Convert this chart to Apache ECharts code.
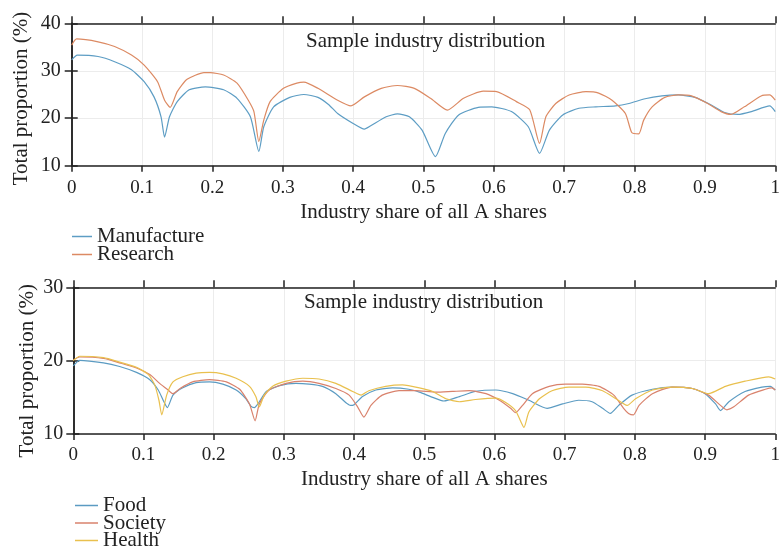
<!DOCTYPE html>
<html>
<head>
<meta charset="utf-8">
<script src="https://cdn.jsdelivr.net/npm/echarts@6/dist/echarts.min.js"></script>
<style>html,body{margin:0;padding:0;background:#fff;}#c{width:783px;height:552px;}</style>
</head>
<body>
<div id="c"></div>
<script>
// ---- Data ----
const titleText = 'Sample industry distribution';
const xName = 'Industry share of all A shares';
const yName = 'Total proportion (%)';

const manufactureX = [0,0.008,0.0375,0.061,0.085,0.103,0.117,0.127,0.132,0.139,0.150,0.167,0.190,0.216,0.235,0.254,0.266,0.273,0.287,0.310,0.330,0.350,0.365,0.378,0.400,0.416,0.425,0.447,0.463,0.480,0.498,0.517,0.531,0.550,0.578,0.597,0.625,0.649,0.665,0.679,0.698,0.721,0.745,0.773,0.792,0.815,0.839,0.862,0.886,0.909,0.928,0.947,0.966,0.992,1.0];
const manufactureY = [32.3,33.3,33.0,31.9,30.2,27.7,24.5,20.3,16.0,20.3,23.5,26.0,26.6,26.0,24.2,20.3,13.0,18.2,22.4,24.4,25.0,24.4,22.9,21.0,18.9,17.7,18.4,20.3,20.9,20.3,17.5,11.9,16.8,20.7,22.3,22.4,21.4,18.2,12.6,17.5,20.7,22.1,22.4,22.6,23.1,24.1,24.7,24.9,24.4,22.8,21.2,20.8,21.4,22.6,21.4];

const researchX = [0,0.007,0.0375,0.061,0.085,0.103,0.122,0.132,0.140,0.150,0.164,0.188,0.197,0.216,0.235,0.251,0.259,0.266,0.273,0.282,0.301,0.320,0.330,0.350,0.378,0.397,0.416,0.440,0.463,0.487,0.510,0.534,0.557,0.585,0.604,0.632,0.651,0.665,0.674,0.688,0.707,0.731,0.749,0.768,0.787,0.796,0.806,0.813,0.825,0.843,0.862,0.881,0.904,0.923,0.937,0.956,0.980,0.992,1.0];
const researchY = [35.4,36.7,36.1,35.1,33.3,31.2,27.7,23.8,22.3,25.6,28.2,29.6,29.6,29.1,27.4,23.8,21.4,15.1,19.6,23.5,26.3,27.4,27.6,26.3,23.8,22.6,24.5,26.3,26.9,26.3,24.2,21.7,24.2,25.7,25.6,23.5,21.8,14.7,20.3,23.1,24.9,25.6,25.3,23.8,21.0,17.0,16.7,19.6,22.4,24.4,24.9,24.7,23.1,21.4,20.8,22.4,24.7,24.9,23.8];

const foodX = [0,0.009,0.043,0.066,0.090,0.109,0.121,0.128,0.134,0.142,0.156,0.175,0.194,0.213,0.232,0.246,0.253,0.258,0.263,0.275,0.294,0.317,0.336,0.355,0.374,0.388,0.395,0.400,0.412,0.431,0.455,0.478,0.493,0.512,0.528,0.550,0.573,0.602,0.626,0.649,0.675,0.697,0.720,0.739,0.754,0.765,0.777,0.796,0.825,0.853,0.882,0.900,0.915,0.922,0.934,0.957,0.981,0.993,1.0];
const foodY = [19.3,20.05,19.7,19.2,18.4,17.4,16.0,14.6,13.6,15.3,16.3,17.0,17.1,16.8,16.0,14.8,13.8,13.6,14.1,15.8,16.6,16.9,16.8,16.5,15.5,14.3,13.9,14.0,15.1,16.0,16.3,16.1,15.7,15.0,14.5,15.1,15.8,16.0,15.5,14.6,13.5,14.1,14.6,14.4,13.5,12.8,13.9,15.3,16.1,16.4,16.2,15.5,14.1,13.2,14.4,15.8,16.4,16.5,16.0];

const societyX = [0,0.009,0.043,0.066,0.090,0.109,0.123,0.135,0.142,0.152,0.170,0.194,0.218,0.237,0.251,0.259,0.265,0.279,0.303,0.327,0.350,0.374,0.393,0.405,0.414,0.424,0.440,0.464,0.488,0.517,0.540,0.564,0.588,0.607,0.623,0.630,0.640,0.654,0.678,0.701,0.725,0.749,0.770,0.784,0.791,0.798,0.806,0.825,0.853,0.882,0.905,0.922,0.931,0.941,0.962,0.986,0.995,1.0];
const societyY = [20.1,20.5,20.3,19.7,19.0,18.1,16.9,16.0,15.5,16.2,17.1,17.4,17.1,16.1,14.1,11.8,14.1,16.0,16.9,17.2,16.9,16.2,15.3,13.7,12.3,13.9,15.3,15.9,15.9,15.7,15.8,15.9,15.5,14.6,13.5,12.9,13.9,15.5,16.5,16.8,16.8,16.5,15.3,13.5,12.8,12.6,13.9,15.5,16.4,16.2,15.3,13.9,13.3,13.7,15.3,16.1,16.3,16.0];

const healthX = [0,0.009,0.043,0.066,0.090,0.107,0.116,0.122,0.126,0.133,0.142,0.156,0.175,0.194,0.213,0.232,0.251,0.260,0.265,0.272,0.284,0.303,0.327,0.350,0.374,0.398,0.410,0.421,0.445,0.469,0.493,0.512,0.531,0.550,0.573,0.602,0.616,0.630,0.637,0.642,0.649,0.664,0.682,0.706,0.730,0.754,0.773,0.789,0.801,0.825,0.853,0.882,0.905,0.929,0.957,0.991,1.0];
const healthY = [20.0,20.6,20.4,19.8,19.1,18.1,16.7,14.6,12.6,15.3,17.1,17.8,18.3,18.4,18.2,17.6,16.5,15.1,13.7,15.3,16.5,17.2,17.6,17.5,16.9,15.8,15.3,15.9,16.5,16.7,16.3,15.8,14.8,14.4,14.7,14.9,14.3,13.2,11.8,10.9,13.0,14.8,15.9,16.4,16.4,15.9,14.8,13.9,14.8,16.0,16.4,16.2,15.5,16.5,17.2,17.8,17.5];

const topLegend = ['Manufacture', 'Research'];
const bottomLegend = ['Food', 'Society', 'Health'];

// ---- Styles ----
const FONT = 'Liberation Serif';
const INK = '#222';
const BIG = 21;
const colors = { Manufacture: '#5d9dc4', Research: '#dc8a63', Food: '#5b9bc2', Society: '#d9826c', Health: '#e9c04e' };

function pairs(xs, ys) { return xs.map((x, i) => [x, ys[i]]); }

function bottomX(grid, gap, margin) {
  return {
    type: 'value', gridIndex: grid, position: 'bottom', min: 0, max: 1, interval: 0.1,
    name: xName, nameLocation: 'middle', nameGap: gap, nameMoveOverlap: false,
    nameTextStyle: { fontFamily: FONT, fontSize: BIG, color: INK },
    axisLine: { show: true, lineStyle: { color: INK, width: 1.5 } },
    axisTick: { show: true, inside: false, length: 6, lineStyle: { color: INK, width: 1.5 } },
    axisLabel: { fontFamily: FONT, fontSize: 19, color: INK, margin: margin,
      formatter: v => (v === 0 ? '0' : v === 1 ? '1' : v.toFixed(1)) },
    splitLine: { show: true, lineStyle: { color: '#ececec', width: 1 } }
  };
}
function topX(grid) {
  return {
    type: 'value', gridIndex: grid, position: 'top', min: 0, max: 1, interval: 0.1,
    axisLine: { show: true, lineStyle: { color: INK, width: 1.5 } },
    axisTick: { show: true, inside: false, length: 7, lineStyle: { color: INK, width: 1.5 } },
    axisLabel: { show: false }, splitLine: { show: false }
  };
}
function leftY(grid, min, max, gap, margin, shiftPad) {
  return {
    type: 'value', gridIndex: grid, position: 'left', min: min, max: max, interval: 10,
    name: yName, nameLocation: 'middle', nameGap: gap, nameRotate: 90, nameMoveOverlap: false,
    nameTextStyle: { fontFamily: FONT, fontSize: BIG, color: INK, padding: [0, shiftPad, 0, 0] },
    axisLine: { show: true, lineStyle: { color: INK, width: 1.5 } },
    axisTick: { show: true, inside: false, length: 7, lineStyle: { color: INK, width: 1.5 } },
    axisLabel: { fontFamily: FONT, fontSize: 20, color: INK, margin: margin },
    splitLine: { show: true, lineStyle: { color: '#ececec', width: 1 } }
  };
}
function rightY(grid, min, max) {
  return {
    type: 'value', gridIndex: grid, position: 'right', min: min, max: max, interval: 10,
    axisLine: { show: true, lineStyle: { color: INK, width: 1.5 } },
    axisTick: { show: true, inside: false, length: 6, lineStyle: { color: INK, width: 1.5 } },
    axisLabel: { show: false }, splitLine: { show: false }
  };
}
function line(name, xs, ys, axis) {
  return {
    name: name, type: 'line', xAxisIndex: axis, yAxisIndex: axis,
    data: pairs(xs, ys), showSymbol: false, symbol: 'none', smooth: 0.2,
    lineStyle: { color: colors[name], width: 1.2 }, itemStyle: { color: colors[name] },
    animation: false
  };
}

const chart = echarts.init(document.getElementById('c'), null, { renderer: 'canvas' });
chart.setOption({
  backgroundColor: '#fff',
  animation: false,
  title: [
    { text: titleText, left: 306, top: 31, padding: 0,
      textStyle: { fontFamily: FONT, fontSize: BIG, fontWeight: 'normal', color: INK } },
    { text: titleText, left: 304, top: 292, padding: 0,
      textStyle: { fontFamily: FONT, fontSize: BIG, fontWeight: 'normal', color: INK } }
  ],
  legend: [
    { data: topLegend, orient: 'vertical', left: 72, top: 226, height: 80, padding: 0, itemGap: -3,
      icon: 'rect', itemWidth: 20, itemHeight: 1.5,
      textStyle: { fontFamily: FONT, fontSize: BIG, color: INK } },
    { data: bottomLegend, orient: 'vertical', left: 75, top: 495, height: 120, padding: 0, itemGap: -3.5,
      icon: 'rect', itemWidth: 23, itemHeight: 1.5,
      textStyle: { fontFamily: FONT, fontSize: BIG, color: INK } }
  ],
  grid: [
    { left: 71.7, right: 2.3, top: 23.3, height: 142.4, containLabel: false },
    { left: 73.3, right: 6.3, top: 287.3, height: 146.7, containLabel: false }
  ],
  xAxis: [ bottomX(0, 36, 13), bottomX(1, 34.5, 12), topX(0), topX(1) ],
  yAxis: [ leftY(0, 10, 40, 40, 11, 8), leftY(1, 10, 30, 35, 10, 20), rightY(0, 10, 40), rightY(1, 10, 30) ],
  series: [
    line('Manufacture', manufactureX, manufactureY, 0),
    line('Research', researchX, researchY, 0),
    line('Food', foodX, foodY, 1),
    line('Society', societyX, societyY, 1),
    line('Health', healthX, healthY, 1)
  ]
});
</script>
</body>
</html>
